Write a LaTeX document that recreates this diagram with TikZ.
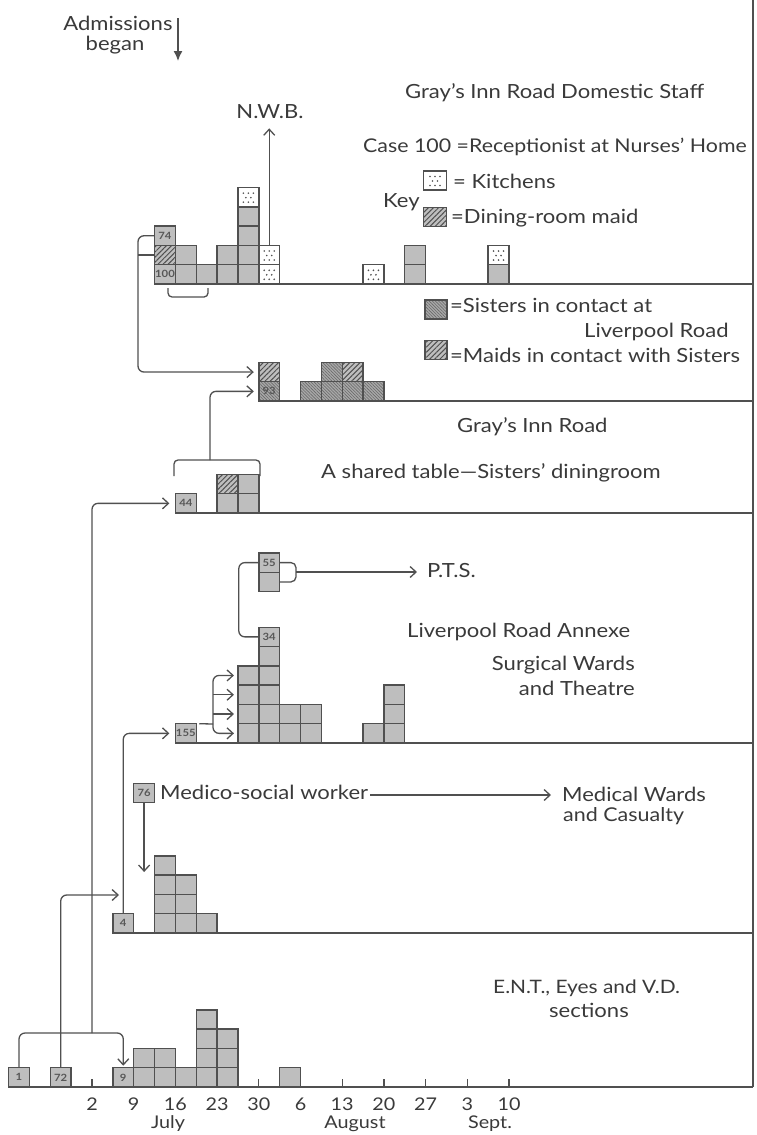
\documentclass[tikz,border=0pt]{standalone}
\usepackage{fontspec}
\setmainfont{Lato}[FakeStretch=1.13]
\usetikzlibrary{arrows.meta,patterns.meta,calc}
\definecolor{ink}{HTML}{3A3A3A}
\definecolor{lin}{HTML}{505050}
\definecolor{cellg}{HTML}{BEBEBE}
\definecolor{sisg}{HTML}{A8A8A8}
\newcommand\cel[6]{\node[cell,#2] (#1) at ({92+(#3+0.5)*20.85},{#4-(#5+0.5)*19.3}) {#6};}
\begin{document}
\begin{tikzpicture}[x=1pt,y=-1pt,
  cell/.style={draw=lin, line width=1.4pt, minimum width=20.85pt, minimum height=19.3pt,
    inner sep=0pt, outer sep=0pt, font=\fontsize{10}{10}\selectfont\bfseries, text=ink!85},
  grey/.style={fill=cellg},
  dotc/.style={fill=white, path picture={\foreach \dx/\dy in {-5/-4,0/-4,5/-4,-2.5/0.5,2.5/0.5,-5/5,0/5,5/5}
      \fill[lin] ($(path picture bounding box.center)+(\dx,\dy)$) circle (0.9pt);}},
  maid/.style={preaction={fill=cellg}, pattern={Lines[angle=45,distance=3.6pt,line width=1pt]}, pattern color=lin},
  sis/.style={preaction={fill=sisg}, pattern={Lines[angle=-45,distance=2.2pt,line width=0.6pt]}, pattern color=lin!85},
  conn/.style={draw=lin, line width=1.3pt, rounded corners=6pt},
  arr/.style={-{Straight Barb[length=6pt,width=11pt]}},
  lab/.style={font=\fontsize{19.5}{21}\selectfont, text=ink, inner sep=0pt},
  axl/.style={font=\fontsize{17.5}{19}\selectfont, text=ink, inner sep=0pt},
  basel/.style={draw=lin, line width=1.2pt},
]
\fill[white] (0,0) rectangle (756,1135);
\useasboundingbox (0,0) rectangle (756,1135);

% ---- frame / baselines
\coordinate (rt) at (753,0);
\coordinate (rb) at (753,1087);
\draw[basel] (rt) -- (rb);
\draw[basel] (9,1087) -- (rb);
\foreach \b/\s in {284/156,401/259,513/176,743/175,933/113}
  \draw[basel] (\s,\b) -- (753,\b);

% ---- axis ticks and labels
\foreach \k/\t in {0/2,1/9,2/16,3/23,4/30,5/6,6/13,7/20,8/27,9/3,10/10}{
  \draw[basel] ({92+\k*41.7},1087) -- ({92+\k*41.7},1079);
  \node[axl, anchor=base] (ax\k) at ({92+\k*41.7},1110) {\t};
}
\node[axl, anchor=base] (july) at (168,1128) {July};
\node[axl, anchor=base] (aug) at (355,1128) {August};
\node[axl, anchor=base] (sept) at (490,1128) {Sept.};

% ---- Domestic staff (base 284)
\cel{d100}{grey}{3}{284}{0}{100}
\cel{dhat}{maid}{3}{284}{1}{}
\cel{d74}{grey}{3}{284}{2}{74}
\cel{d4a}{grey}{4}{284}{0}{}
\cel{d4b}{grey}{4}{284}{1}{}
\cel{d5a}{grey}{5}{284}{0}{}
\cel{d6a}{grey}{6}{284}{0}{}
\cel{d6b}{grey}{6}{284}{1}{}
\foreach \r in {0,...,3}{\cel{d7-\r}{grey}{7}{284}{\r}{}}
\cel{d7-4}{dotc}{7}{284}{4}{}
\cel{d8-0}{dotc}{8}{284}{0}{}
\cel{d8-1}{dotc}{8}{284}{1}{}
\cel{d13}{dotc}{13}{284}{0}{}
\cel{d15a}{grey}{15}{284}{0}{}
\cel{d15b}{grey}{15}{284}{1}{}
\cel{d19a}{grey}{19}{284}{0}{}
\cel{d19b}{dotc}{19}{284}{1}{}

% ---- Sisters (base 401)
\cel{s93b}{sis}{8}{401}{0}{93}
\cel{s93t}{maid}{8}{401}{1}{}
\cel{s10a}{sis}{10}{401}{0}{}
\cel{s11a}{sis}{11}{401}{0}{}
\cel{s11b}{sis}{11}{401}{1}{}
\cel{s12a}{sis}{12}{401}{0}{}
\cel{s12b}{maid}{12}{401}{1}{}
\cel{s13a}{sis}{13}{401}{0}{}

% ---- Gray's Inn Road (base 513)
\cel{g44}{grey}{4}{513}{0}{44}
\cel{g6a}{grey}{6}{513}{0}{}
\cel{g6b}{maid}{6}{513}{1}{}
\cel{g7a}{grey}{7}{513}{0}{}
\cel{g7b}{grey}{7}{513}{1}{}

% ---- Liverpool Road (base 743)
\cel{l155}{grey}{4}{743}{0}{155}
\foreach \r in {0,...,3}{\cel{l7-\r}{grey}{7}{743}{\r}{}}
\foreach \r in {0,...,4}{\cel{l8-\r}{grey}{8}{743}{\r}{}}
\cel{l34}{grey}{8}{743}{5}{34}
\foreach \r in {0,1}{\cel{l9-\r}{grey}{9}{743}{\r}{}\cel{l10-\r}{grey}{10}{743}{\r}{}}
\cel{l13}{grey}{13}{743}{0}{}
\foreach \r in {0,...,2}{\cel{l14-\r}{grey}{14}{743}{\r}{}}
\node[cell,grey] (p55) at ({92+8.5*20.85},562.6) {55};
\node[cell,grey] (p55b) at ({92+8.5*20.85},581.9) {};

% ---- Medical (base 933)
\cel{m4}{grey}{1}{933}{0}{4}
\foreach \r in {0,...,3}{\cel{m3-\r}{grey}{3}{933}{\r}{}}
\foreach \r in {0,...,2}{\cel{m4-\r}{grey}{4}{933}{\r}{}}
\cel{m5}{grey}{5}{933}{0}{}
\node[cell,grey] (m76) at ({92+2.5*20.85},793) {76};

% ---- ENT (base 1087)
\cel{e1}{grey}{-4}{1087}{0}{1}
\cel{e72}{grey}{-2}{1087}{0}{72}
\cel{e9}{grey}{1}{1087}{0}{9}
\foreach \r in {0,1}{\cel{e2-\r}{grey}{2}{1087}{\r}{}\cel{e3-\r}{grey}{3}{1087}{\r}{}}
\cel{e4}{grey}{4}{1087}{0}{}
\foreach \r in {0,...,3}{\cel{e5-\r}{grey}{5}{1087}{\r}{}}
\foreach \r in {0,...,2}{\cel{e6-\r}{grey}{6}{1087}{\r}{}}
\cel{e9b}{grey}{9}{1087}{0}{}

% ---- Key boxes
\node[cell,dotc,minimum width=23pt] (kdot) at (435,180.5) {};
\node[cell,maid,minimum width=23pt] (khat) at (435,217) {};
\node[cell,sis,minimum width=22pt] (ksis) at (436,309.5) {};
\node[cell,maid,minimum width=22pt] (kmaid) at (436,350) {};

% ---- Texts
\node[lab, anchor=base] (adm) at (118,30) {Admissions};
\node[lab, anchor=base] (adm2t) at (115,50) {began};
\node[lab, anchor=base] (nwb) at (270,118) {N.W.B.};
\node[lab, anchor=base west] (t1) at (405,98) {Gray’s Inn Road Domestic Staff};
\node[lab, anchor=base west, font=\fontsize{18.9}{20}\selectfont] (t2) at (363,152) {Case 100 =Receptionist at Nurses’ Home};
\node[lab, anchor=base west] (t3) at (453,188) {= Kitchens};
\node[lab, anchor=base west] (key) at (383,207) {Key};
\node[lab, anchor=base west] (t4) at (451,223) {=Dining-room maid};
\node[lab, anchor=base west] (t5) at (450,312) {=Sisters in contact at};
\node[lab, anchor=base west] (t6) at (584,337) {Liverpool Road};
\node[lab, anchor=base west] (t7) at (450,362) {=Maids in contact with Sisters};
\node[lab, anchor=base west] (t8) at (457,432) {Gray’s Inn Road};
\node[lab, anchor=base west] (t9) at (321,478) {A shared table—Sisters’ diningroom};
\node[lab, anchor=base west] (pts) at (427,577) {P.T.S.};
\node[lab, anchor=base west] (t10) at (407,637) {Liverpool Road Annexe};
\node[lab, anchor=base east] (t11) at (635,670) {Surgical Wards};
\node[lab, anchor=base east] (t12) at (635,695) {and Theatre};
\node[lab, anchor=base west] (medico) at (160,799) {Medico-social worker};
\node[lab, anchor=base west] (t13) at (562,801) {Medical Wards};
\node[lab, anchor=base west, font=\fontsize{19}{20}\selectfont] (t14) at (563,821) {and Casualty};
\node[lab, anchor=base west, font=\fontsize{18.5}{20}\selectfont] (t15) at (493,993) {E.N.T., Eyes and V.D.};
\node[lab, anchor=base] (t16) at (589,1017) {sections};

% ---- Connectors
\coordinate (adm1) at (178,18);
\coordinate (adm2) at (178,61);
\draw[draw=lin, line width=1.5pt, -{Latex[length=10pt,width=9pt]}] (adm1) -- (adm2);

\draw[conn,arr] (d8-1.north) -- ([yshift=-10pt]nwb.south -| d8-1.north);

% domestic left bracket to sisters
\coordinate (dl) at (138,300);
\draw[conn,arr,shorten >=5pt] (d74.west) -| (dl) |- (s93t.west);
\draw[conn] (dhat.west) -- (dhat.west -| dl);
% U bracket under domestic
\coordinate (ub1) at (168,288);
\coordinate (ub2) at (208,288);
\draw[conn,rounded corners=4pt] (ub1) -- ++(0,9) -| (ub2);

% Gray's bracket and stem
\coordinate (gb1) at (174,476);
\coordinate (gb2) at (260,476);
\coordinate (gst) at (210,460);
\draw[conn,rounded corners=4pt] (gb1) |- (gst) -| (gb2);
\draw[conn,arr,shorten >=5pt] (gst) |- (s93b.west);

% ENT: 1 -> 9 and 44
\coordinate (j1) at (92,1033);
\draw[conn,arr,shorten >=2pt] (e1.north) |- (j1) -| (e9.north);
\draw[conn,arr,shorten >=6pt] (j1) |- (g44.west);
% 72 -> 4
\coordinate (a72) at (119,895);
\draw[conn,arr] (e72.north) |- (a72);
% 4 -> 155
\draw[conn,arr,shorten >=6pt] (m4.north) |- (l155.west);
% 155 fork
\coordinate (fk) at (213,724);
\draw[conn] ([xshift=3pt]l155.north east) -- (fk);
\draw[conn,arr,shorten >=4pt] (fk) |- (l7-3.west);
\draw[conn,arr,shorten >=4pt] (fk) |- (l7-0.west);
\draw[conn,arr,shorten >=4pt] (fk |- l7-2.west) -- (l7-2.west);
\draw[conn,arr,shorten >=4pt] (fk |- l7-1.west) -- (l7-1.west);
% 34 -> 55
\draw[conn] (l34.west) -- ++(-20,0) |- (p55.west);
\coordinate (pb) at (296,572);
\draw[conn,rounded corners=5pt] (p55.east) -| (pb) |- (p55b.east);
\draw[conn,arr,shorten >=10pt] (pb) -- (pts.west |- pb);
% 76
\coordinate (a76) at ({92+2.5*20.85},872);
\draw[conn,arr] (m76.south) -- (a76);
\coordinate (mda) at (551,795);
\draw[conn,arr] ([xshift=2pt]medico.east |- mda) -- (mda);
\end{tikzpicture}
\end{document}
